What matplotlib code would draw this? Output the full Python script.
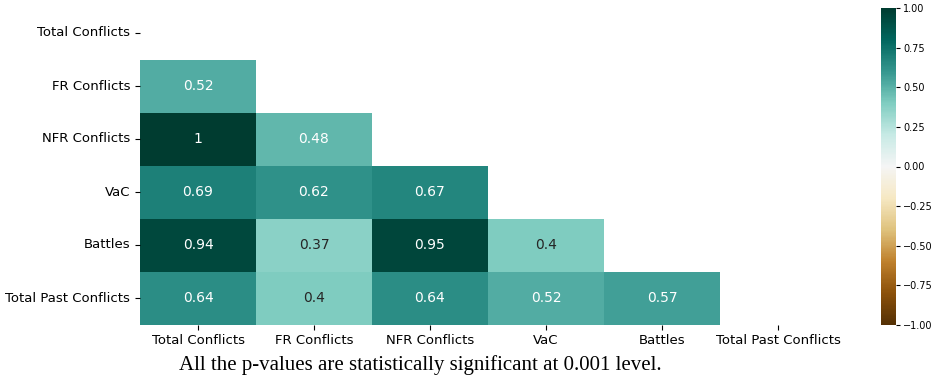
import numpy as np
import matplotlib
matplotlib.use("Agg")
import matplotlib.pyplot as plt
import seaborn as sns

labels = ["Total Conflicts", "FR Conflicts", "NFR Conflicts", "VaC", "Battles", "Total Past Conflicts"]
row_fr = [0.52]
row_nfr = [1.0, 0.48]
row_vac = [0.69, 0.62, 0.67]
row_battles = [0.94, 0.37, 0.95, 0.4]
row_past = [0.64, 0.4, 0.64, 0.52, 0.57]
caption = "All the p-values are statistically significant at 0.001 level."

n = len(labels)
corr = np.eye(n)
for i, row in enumerate([row_fr, row_nfr, row_vac, row_battles, row_past], start=1):
    for j, v in enumerate(row):
        corr[i, j] = v
        corr[j, i] = v
mask = np.triu(np.ones_like(corr, dtype=bool))

W, H = 935, 387
fig = plt.figure(figsize=(W / 100, H / 100), dpi=100)
ax = fig.add_axes([140 / W, 1 - 324.5 / H, 696 / W, 318 / H])
cax = fig.add_axes([881 / W, 1 - 325 / H, 15 / W, 317 / H])

sns.heatmap(corr, mask=mask, cmap="BrBG", vmin=-1, vmax=1, annot=True,
            annot_kws={"fontsize": 10}, xticklabels=labels, yticklabels=labels,
            ax=ax, cbar_ax=cax)
ax.tick_params(axis="both", labelsize=9.5)
ax.set_yticklabels(labels, rotation=0)
ax.set_xticklabels(labels, rotation=0)
cax.tick_params(labelsize=7, length=3, pad=2)
cax.set_yticks([-1, -0.75, -0.5, -0.25, 0, 0.25, 0.5, 0.75, 1])

fig.text(420 / W, 1 - 365 / H, caption, ha="center", va="center",
         fontsize=15, family="Liberation Serif")

fig.savefig("out.png", dpi=100)
